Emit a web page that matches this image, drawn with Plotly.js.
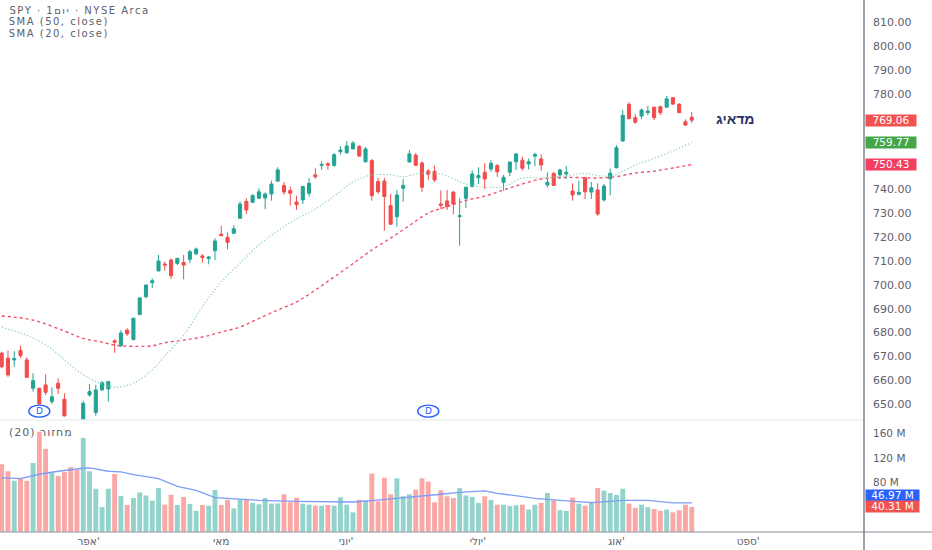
<!DOCTYPE html>
<html><head><meta charset="utf-8">
<script src="https://cdn.plot.ly/plotly-3.0.1.min.js"></script>
<style>html,body{margin:0;padding:0;background:#fff}
.annotation[data-index="0"] text,.annotation[data-index="1"] text,.annotation[data-index="2"] text{letter-spacing:1.5px}
.annotation[data-index="3"] text{letter-spacing:1px}
</style>
</head><body><div id="chart" style="width:932px;height:550px"></div>
<script>
const opens=[671.3,669.2,668.5,672.4,668.5,656.6,656.6,658,651,658.7,652,642,640,642,653.8,646.4,655.9,656.3,676.5,674.5,
681,677.1,687.5,695,700.9,705.8,708.7,710.4,709,709.4,710.7,713,712.1,711,714.3,721.2,719.9,721.6,727.9,735,
734.6,736.3,736.4,738.1,743.5,741.7,739.6,734.7,735.6,738.4,746.1,750.1,750.8,750,755.8,755.4,757,758.1,751.6,752.1,
743.3,743.5,733.2,728.6,740.5,751.5,754.4,751.1,747.7,747.6,733.9,735.2,738.9,728.6,736.3,741.2,744.9,747.2,748.6,750,
743,747.2,751.6,752.3,750.7,754,752.8,741.9,746.8,746.1,746.5,739.3,738,744.9,738.9,739.8,735.6,744.5,749.1,760.3,
775.7,770.1,770.8,772.2,774.5,774.7,774.5,778.5,775.8,768.4,770.3];
const highs=[671.9,672.4,672.2,674.5,669.6,662.9,656.8,662.5,657,660.8,654.5,643,642,651.4,658.4,658,659.6,659.5,677.1,681,
681.8,686.1,694.6,700.2,702.7,712.5,709.7,711.1,711.3,712.5,714.6,715.6,712.9,712.1,719.5,724.7,722,725,734.9,736.3,
738.1,740.5,738.8,743.7,749.3,743.2,741.2,737.4,741.6,744.7,748.9,751.8,751.4,755.2,758.2,760.3,760.3,758.6,757.9,752.8,
744.9,744.9,738.1,739.8,744.3,756.5,755.3,751.9,748.6,750,739.6,739.8,739.3,736.3,741.2,747.9,749.3,751,752.3,750.7,
746.1,751.6,755.2,753.7,753,755.4,754.7,747.2,747.2,748.6,749.9,742.6,743.7,745.3,743.2,742.6,742.3,748.7,758.6,773.3,
776.6,771.6,774,775,774.7,775.1,779.2,778.7,776.1,769.4,772.5];
const lows=[665,661.4,665.6,669.4,661,655.2,649.9,653.8,650,654.2,644.8,636,633,640,653.1,645.1,655.6,651,671.5,673.8,
678.6,676.6,687.4,694.3,698.7,705.7,705.9,702.4,708.3,702.3,709,712.4,709.3,708.6,710.4,720.5,714.9,721.5,727.7,729.7,
734.4,736.2,731.7,735.3,743.2,737.8,733.2,731.4,733.9,737,744.4,748.2,748.2,749.7,754.6,754.9,756.8,753.7,751.4,735.3,
738.1,722.7,725.3,724.4,734.9,751.4,750,739,744,743.2,731.7,731.4,729.6,716.4,732.1,740.9,742.3,740.1,747.4,745.3,
739.5,745.6,748.2,747.9,748.4,749.8,747.9,740.9,741.6,744.3,744.4,735.3,737.5,736,736,729,734.9,737.5,748.9,760,
769.5,767.5,769.5,771.2,769.1,771.2,774.3,775.5,772,766.7,767.9];
const closes=[665.6,662.2,669,670.3,661.2,659.8,650,654.9,653,656.6,645,638,635,650.3,655.2,655.9,658.9,659.4,675.9,679.8,
679.4,686,694.5,699.9,701.7,710,708.3,703.8,711.1,708.3,713.9,715,711.5,711.7,718.4,720.6,717.8,723.5,733.9,731.4,
737.4,739,738.1,742.3,748.2,738.9,738.4,733.6,741.2,742.6,745.3,750.5,750.2,754.6,756.5,758.2,759.4,754,757,737.4,
739,737,725.4,737.7,741.7,754.9,750.1,740.9,746.4,744,733.3,732.8,733.9,729,740.9,746.5,745.8,744.4,751,747.4,
745.1,751.5,754.9,748.9,751.6,754.7,750.3,743,741.7,748.2,747.2,737.7,738.8,739,740.7,729.7,741.4,746.8,757.5,771.1,
769.7,768.2,773.3,772.9,770.1,772.2,778,775.8,772.2,767,769.06];
const volumes=[110,98.5,83,87.6,83,112,163,135,96,91,97,105,101,153,98.5,70,40,70,94,58,
43.5,55,64,59,50.6,71,44,60,43.5,56.6,45,34,43.5,42.4,68,43.5,52,38,53,52,
47,44.6,55,45.7,46,61,48,55,45.7,44,42.4,42.4,43.5,42.4,56,44,31.5,52,50.6,94.6,
49.5,88,61,87,57.7,61,68.5,87,81.6,48,67.5,57.7,55,71,59,56.6,47,57.7,51.7,44,
44,42,43,44,36,44,47,63,51,35,34,55.5,45.7,42.4,47,71,67,63,60,70,
45.7,39,44,40,37,34,36,31.5,35,44,40.31];

const sma50Idx=[0,5,10,13,16,18,21,24,26,29,32,35,38,41,44,47,50,53,56,59,62,65,68,71,74,77,80,83,86,89,92,95,98,101,104,107,110];
const sma50=[686.9,685.2,680.6,677.5,676,674.7,674.2,674.4,675.7,676.8,678.1,680.2,682.3,685.9,689.4,692.8,697.8,703.3,708.9,714.6,719.6,724.9,730.1,732.8,735.4,737.2,739.8,742.3,744.4,745,745,744.8,745.4,746.9,747.7,749,750.43];
const sma20Idx=[0,3,5,8,10,13,16,18,21,24,26,29,32,35,38,41,44,47,50,53,56,59,62,64,67,70,74,77,80,83,86,90,93,95,97,98,101,104,107,110];
const sma20=[682.3,679.8,677.7,673.1,668.5,662.2,658.4,657.1,658.8,664.3,670.1,678.9,690.7,701.2,709.1,716.7,722.6,727.6,731.8,737.2,743.1,746.1,746.1,745.4,746.9,746.5,742.3,741,741.2,744.8,744.8,745.8,746.7,745.8,745.6,746.3,750.3,753,756.1,759.77];
const volSmaIdx=[0,3,6,9,13,14,17,19,21,25,28,31,34,37,41,47,56,59,63,67,70,73,77,79,82,85,88,91,94,97,99,103,107,110];
const volSma=[87.6,86.5,93.6,98.5,103.4,104,98.5,97.4,93,86.5,74,67.5,55.5,53.3,51,49.5,48.4,50.6,54.4,57,61,64,66.4,62.6,58,54.4,51.7,49.5,47.3,49.5,51,51,46.8,46.97];

const priceTicks=[650,660,670,680,690,700,710,720,730,740,780,790,800,810];
const volTicks=[80,120,160];
const volTickLabels=['80 M','120 M','160 M'];
const monthIdx=[13.85,35,54.9,75.9,98,119];
const monthLabels=["אפר'","מאי","יוני'","יולי'","אוג'","ספט'"];
const dividendIdx=[6,68];
const dividendLevel=647;
const lastClose=769.06, lastSma20=759.77, lastSma50=750.43, lastVolSma=46.97, lastVol=40.31;

const UP='#22a393', DOWN='#f24b4b';
const VUP='#92d3cc', VDOWN='#f9a8a6';
const idx=closes.map((_,i)=>i);
const F='"DejaVu Sans", sans-serif';
const H='"Liberation Sans", Arial, sans-serif';

const traces=[
 {type:'bar',x:idx,y:volumes,xaxis:'x',yaxis:'y2',marker:{color:closes.map((c,i)=>c>=opens[i]?VUP:VDOWN),line:{width:0}},hoverinfo:'skip'},
 {type:'scatter',mode:'lines',x:volSmaIdx,y:volSma,xaxis:'x',yaxis:'y2',line:{color:'#7f9df5',width:1.3},hoverinfo:'skip'},
 {type:'scatter',mode:'lines',x:sma50Idx,y:sma50,xaxis:'x',yaxis:'y',line:{color:'#f2516d',width:1.4,dash:'3px,3px',shape:'spline'},hoverinfo:'skip'},
 {type:'scatter',mode:'lines',x:sma20Idx,y:sma20,xaxis:'x',yaxis:'y',line:{color:'#8fd3b4',width:1.2,dash:'1.3px,2px',shape:'spline'},hoverinfo:'skip'},
 {type:'candlestick',x:idx,open:opens,high:highs,low:lows,close:closes,xaxis:'x',yaxis:'y',whiskerwidth:0,
  increasing:{line:{color:UP,width:1},fillcolor:UP},decreasing:{line:{color:DOWN,width:1},fillcolor:DOWN},hoverinfo:'skip'}
];

const label=(text,yref,y,bg,yshift,w)=>({xref:'paper',yref:yref,x:865/864,y:y,xanchor:'left',yanchor:'middle',yshift:yshift||0,
  text:text,showarrow:false,bgcolor:bg,width:w,height:10.5,borderpad:0,align:'center',font:{family:F,size:10.5,color:'#fff'}});

const legend=(text,py,size,spacing)=>({xref:'paper',yref:'paper',x:8/864,y:1-py/532,xanchor:'left',yanchor:'middle',xshift:text.length*spacing/2,showarrow:false,text:text,
  font:{family:F,size:size,color:'#5d606b'},borderpad:0});

const annotations=[
 legend('SPY · 1יום · NYSE Arca',10.3,10,1.5),legend('SMA (50, close)',22,10,1.5),legend('SMA (20, close)',33.7,10,1.5),
 legend('מחזור (20)',432,11,1),
 {xref:'x',yref:'y',x:116.9,y:769.5,xanchor:'center',yanchor:'middle',showarrow:false,text:'מדאיג',font:{family:H,size:14,color:'#2a3163',weight:700}},
 label(lastClose.toFixed(2),'y',lastClose,'#f25350',0,50),
 label(lastSma20.toFixed(2),'y',lastSma20,'#43a648',0,50),
 label(lastSma50.toFixed(2),'y',lastSma50,'#f23f62',0,50),
 label(lastVolSma.toFixed(2)+' M','y2',lastVolSma,'#2962ff',7,53),
 label(lastVol.toFixed(2)+' M','y2',lastVol,'#f25350',0,53)
];
dividendIdx.forEach(i=>annotations.push({xref:'x',yref:'y',x:i,y:dividendLevel,xanchor:'center',yanchor:'middle',showarrow:false,text:'D',font:{family:F,size:9,color:'#2962ff'}}));

const shapes=[
 {type:'line',xref:'paper',yref:'paper',x0:0,x1:1,y0:112/532,y1:112/532,line:{color:'#eeeff2',width:1.5}},
 {type:'line',xref:'paper',yref:'paper',x0:0,x1:932/864,y0:0,y1:0,line:{color:'#8a8d98',width:1}},
 {type:'line',xref:'paper',yref:'paper',x0:1,x1:1,y0:-18/532,y1:1,line:{color:'#6f727c',width:1.3}}
];
dividendIdx.forEach(i=>shapes.push({type:'circle',xref:'x',yref:'y',xsizemode:'pixel',ysizemode:'pixel',xanchor:i,yanchor:dividendLevel,
  x0:-10.5,x1:10.5,y0:-6,y1:6,line:{color:'#2962ff',width:1.4},fillcolor:'rgba(255,255,255,0.9)'}));

const layout={width:932,height:550,autosize:false,margin:{l:0,r:68,t:0,b:18,pad:0},paper_bgcolor:'#fff',plot_bgcolor:'#fff',showlegend:false,
 boxgap:0.3,bargap:0.22,hovermode:false,
 xaxis:{domain:[0,1],range:[-0.27,137.46],anchor:'y2',rangeslider:{visible:false},showgrid:false,zeroline:false,showline:false,ticks:'',
  tickmode:'array',tickvals:monthIdx,ticktext:monthLabels,ticklabelstandoff:1,tickfont:{family:F,size:10.5,color:'#5d606b'}},
 yaxis:{domain:[112/532,1],range:[643.29,819.47],side:'right',anchor:'x',showgrid:false,zeroline:false,showline:false,ticks:'',
  tickmode:'array',tickvals:priceTicks,ticktext:priceTicks.map(v=>v.toFixed(2)),ticklabelstandoff:8,tickfont:{family:F,size:11,color:'#5d606b'}},
 yaxis2:{domain:[0,112/532],range:[-0.5,182],side:'right',anchor:'x',showgrid:false,zeroline:false,showline:false,ticks:'',
  tickmode:'array',tickvals:volTicks,ticktext:volTickLabels,ticklabelstandoff:8,tickfont:{family:F,size:10.5,color:'#5d606b'}},
 annotations:annotations,shapes:shapes};
Plotly.newPlot('chart',traces,layout,{displayModeBar:false,staticPlot:true});
</script></body></html>
